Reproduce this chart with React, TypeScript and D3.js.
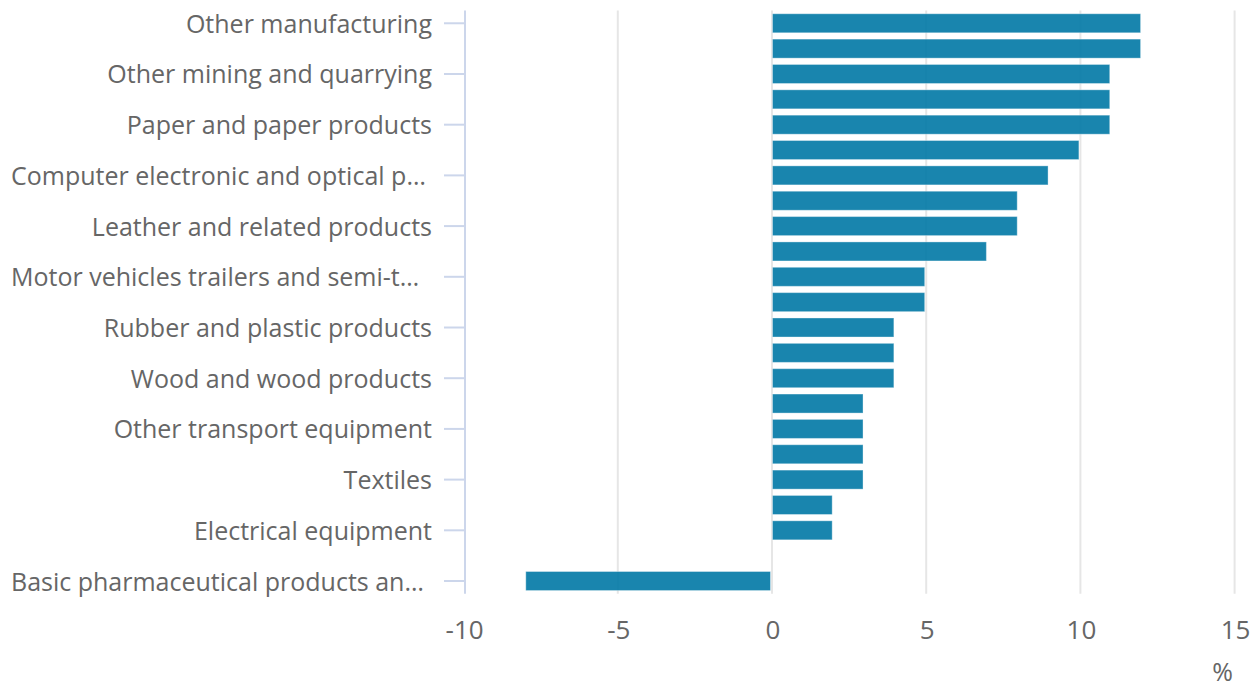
import React, { useMemo } from "react";
import * as d3 from "d3";

const categories: string[] = [
  "Other manufacturing",
  "Furniture",
  "Other mining and quarrying",
  "Beverages",
  "Paper and paper products",
  "Printing and reproduction of recorded media",
  "Computer electronic and optical products",
  "Food products",
  "Leather and related products",
  "Chemicals and chemical products",
  "Motor vehicles trailers and semi-trailers",
  "Wearing apparel",
  "Rubber and plastic products",
  "Fabricated metal products",
  "Wood and wood products",
  "Other non-metallic mineral products",
  "Other transport equipment",
  "Basic metals",
  "Textiles",
  "Machinery and equipment",
  "Electrical equipment",
  "Tobacco products",
  "Basic pharmaceutical products and preparations",
];

const values: number[] = [12, 12, 11, 11, 11, 10, 9, 8, 8, 7, 5, 5, 4, 4, 4, 3, 3, 3, 3, 2, 2, 0, -8];

const xTicks: number[] = [-10, -5, 0, 5, 10, 15];
const xDomain: [number, number] = [-10, 15];
const axisTitle = "%";

const W = 1254;
const H = 688;
const FONT = "'Open Sans', sans-serif";
const LABEL_SIZE = 25;
const LABEL_MAX = 418;

function useTruncate() {
  return useMemo(() => {
    const canvas = document.createElement("canvas");
    const ctx = canvas.getContext("2d");
    if (ctx) ctx.font = `${LABEL_SIZE}px 'Open Sans'`;
    const measure = (s: string) => (ctx ? ctx.measureText(s).width : s.length * 12);
    return (s: string) => {
      if (measure(s) <= LABEL_MAX) return { text: s, truncated: false };
      let t = s;
      while (t.length > 0 && measure(t + "…") > LABEL_MAX) t = t.slice(0, -1);
      return { text: t.trimEnd() + "…", truncated: true };
    };
  }, []);
}

export default function App() {
  const truncate = useTruncate();
  const x = d3.scaleLinear().domain(xDomain).range([463.6, 1234.6]);
  const y = d3
    .scaleBand<string>()
    .domain(categories)
    .range([10.6, 593.7])
    .paddingInner(0.21)
    .paddingOuter(0.105);

  const plotTop = 10.6;
  const plotBottom = 593.7;

  return (
    <svg
      width={W}
      height={H}
      style={{ position: "absolute", left: 0, top: 0, fontFamily: FONT }}
    >
      <rect width={W} height={H} fill="#ffffff" />
      {xTicks.map((t) =>
        t === xDomain[0] ? null : (
          <line
            key={"g" + t}
            x1={x(t)}
            x2={x(t)}
            y1={plotTop}
            y2={plotBottom}
            stroke="#e6e6e6"
            strokeWidth={2}
          />
        )
      )}
      {categories.map((c, i) => {
        const v = values[i];
        if (v === 0) return null;
        const x0 = x(Math.min(0, v));
        const x1 = x(Math.max(0, v));
        return (
          <rect
            key={"b" + c}
            x={x0 + 0.5}
            y={y(c)! + 0.5}
            width={x1 - x0 - 2}
            height={y.bandwidth() - 1}
            fill="rgb(0,120,165)"
            fillOpacity={0.9}
            stroke="#ffffff"
            strokeOpacity={0.35}
            strokeWidth={1}
          />
        );
      })}
      <line x1={465} x2={465} y1={plotTop} y2={plotBottom} stroke="#ccd6eb" strokeWidth={2} />
      {categories.map((c, i) => {
        if (i % 2 !== 0) return null;
        const cy = y(c)! + y.bandwidth() / 2;
        const lab = truncate(c);
        return (
          <g key={"l" + c}>
            <line x1={444} x2={465} y1={cy} y2={cy} stroke="#ccd6eb" strokeWidth={2} />
            <text
              x={lab.truncated ? 11 : 432}
              y={cy}
              dy="0.38em"
              textAnchor={lab.truncated ? "start" : "end"}
              fill="#666666"
              fontSize={LABEL_SIZE}
            >
              {lab.text}
            </text>
          </g>
        );
      })}
      {xTicks.map((t) => (
        <text
          key={"t" + t}
          x={x(t) + 1}
          y={639}
          textAnchor="middle"
          fill="#666666"
          fontSize={26}
        >
          {t}
        </text>
      ))}
      <text x={1233} y={681} textAnchor="end" fill="#666666" fontSize={25}>
        {axisTitle}
      </text>
    </svg>
  );
}
